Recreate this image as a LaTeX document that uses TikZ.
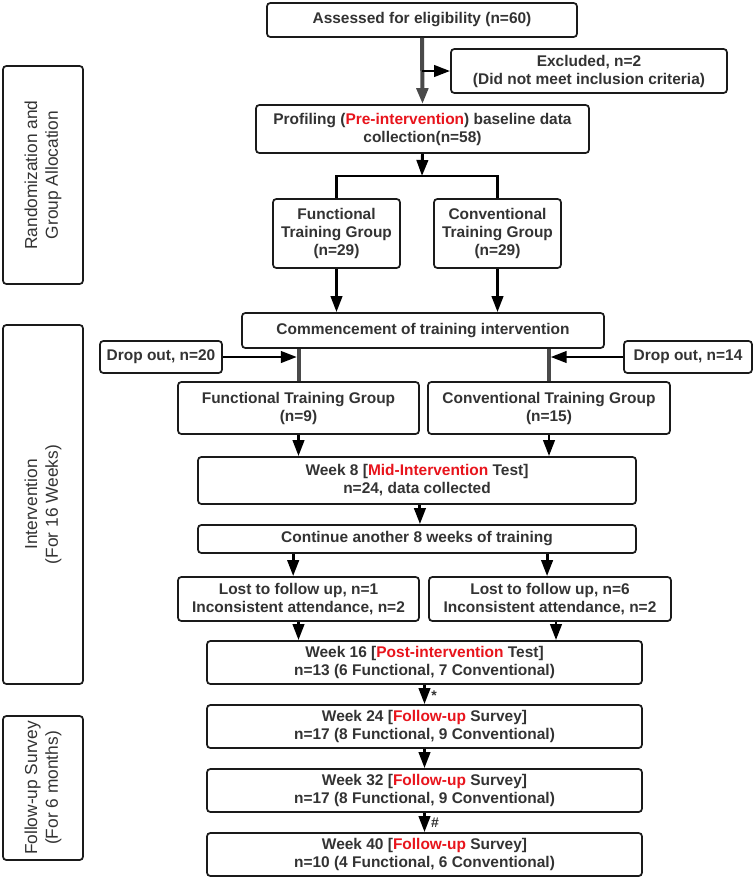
\documentclass[tikz,border=0pt]{standalone}
\usepackage{fontspec}
\setmainfont{Liberation Sans}
\usetikzlibrary{arrows.meta}
\definecolor{txt}{HTML}{333333}
\definecolor{hl}{HTML}{E8141C}
\definecolor{edge}{HTML}{1A1A1A}
\definecolor{gl}{HTML}{4A4A4A}
\newcommand{\hlt}[1]{\textcolor{hl}{#1}}
\begin{document}
\begin{tikzpicture}[x=0.75pt,y=-0.75pt,
 box/.style={draw=edge, line width=1.3pt, rounded corners=2.5pt, fill=white, align=center, inner sep=0pt, text=txt, font=\bfseries\fontsize{11.6}{13.5}\selectfont},
 sz/.style 2 args={minimum width=#1*0.75pt, minimum height=#2*0.75pt},
 side/.style={draw=edge, line width=1.3pt, rounded corners=2.5pt, align=center, inner sep=0pt, text=txt, rotate=90, font=\fontsize{13}{15.5}\selectfont},
 arr/.style={draw=black, line width=2.2pt, -{Triangle[length=12pt,width=8.5pt]}},
 plain/.style={draw=black, line width=2.2pt},
 gln/.style={draw=gl, line width=3pt},
 garr/.style={draw=gl, line width=3pt, -{Triangle[length=12pt,width=8.5pt]}},
 smark/.style={text=txt, inner sep=0pt, font=\bfseries\fontsize{10.5}{11}\selectfont},
]
\useasboundingbox (0,0) rectangle (754,879);

% side labels
\node[side, sz={218}{80}] (s1) at (43,175) {Randomization and\\Group Allocation};
\node[side, sz={359}{80}] (s2) at (43,504.5) {Intervention\\(For 16 Weeks)};
\node[side, sz={144}{80}] (s3) at (43,788) {Follow-up Survey\\(For 6 months)};

% boxes
\node[box, sz={310}{34}] (assess) at (422,20) {Assessed for eligibility (n=60)};
\node[box, sz={276}{44}] (excl) at (589,71) {Excluded, n=2\\(Did not meet inclusion criteria)};
\node[box, sz={333}{48}] (prof) at (422.5,129) {Profiling (\hlt{Pre-intervention}) baseline data\\collection(n=58)};
\node[box, sz={127}{69}] (fun1) at (336.5,233.5) {Functional\\Training Group\\(n=29)};
\node[box, sz={127}{69}] (con1) at (497.5,233.5) {Conventional\\Training Group\\(n=29)};
\node[box, sz={362}{35}] (comm) at (423,330.5) {Commencement of training intervention};
\node[box, sz={122}{32}] (drop1) at (161,357) {Drop out, n=20};
\node[box, sz={128}{32}] (drop2) at (688,357) {Drop out, n=14};
\node[box, sz={241}{52}] (fun2) at (298.5,408) {Functional Training Group\\(n=9)};
\node[box, sz={242}{52}] (con2) at (549,408) {Conventional Training Group\\(n=15)};
\node[box, sz={438}{47}] (wk8) at (417,480.5) {Week 8 [\hlt{Mid-Intervention} Test]\\n=24, data collected};
\node[box, sz={438}{28}] (cont) at (417,539) {Continue another 8 weeks of training};
\node[box, sz={241}{44}] (lost1) at (298.5,599) {Lost to follow up, n=1\\Inconsistent attendance, n=2};
\node[box, sz={242}{44}] (lost2) at (550,599) {Lost to follow up, n=6\\Inconsistent attendance, n=2};
\node[box, sz={435}{43}] (wk16) at (424.5,662.5) {Week 16 [\hlt{Post-intervention} Test]\\n=13 (6 Functional, 7 Conventional)};
\node[box, sz={435}{43}] (wk24) at (424.5,726.5) {Week 24 [\hlt{Follow-up} Survey]\\n=17 (8 Functional, 9 Conventional)};
\node[box, sz={435}{43}] (wk32) at (424.5,790.5) {Week 32 [\hlt{Follow-up} Survey]\\n=17 (8 Functional, 9 Conventional)};
\node[box, sz={435}{43}] (wk40) at (424.5,854.5) {Week 40 [\hlt{Follow-up} Survey]\\n=10 (4 Functional, 6 Conventional)};

% connectors
\draw[garr] (assess.south) -- (prof.north);
\coordinate (exb) at (assess.south |- excl.west);
\draw[arr] (exb) -- (excl.west);

\coordinate (sp) at (422,176);
\draw[arr] (prof.south) -- (sp);
\draw[plain] (fun1.north) |- (sp) -| (con1.north);
\draw[arr] (fun1.south) -- (fun1.south |- comm.north);
\draw[arr] (con1.south) -- (con1.south |- comm.north);

\draw[gln] (comm.south -| fun2.north) -- (fun2.north);
\draw[gln] (comm.south -| con2.north) -- (con2.north);
\draw[arr, shorten >=1.2pt] (drop1.east) -- (drop1.east -| fun2.north);
\draw[arr, shorten >=1.2pt] (drop2.west) -- (drop2.west -| con2.north);

\draw[arr] (fun2.south) -- (fun2.south |- wk8.north);
\draw[arr] (con2.south) -- (con2.south |- wk8.north);
\draw[arr] ([xshift=2.2pt]wk8.south) -- ([xshift=2.2pt]cont.north);
\draw[arr] ([xshift=-4pt]lost1.north |- cont.south) -- ([xshift=-4pt]lost1.north);
\draw[arr] ([xshift=-2.2pt]lost2.north |- cont.south) -- ([xshift=-2.2pt]lost2.north);
\draw[arr] (lost1.south) -- (lost1.south |- wk16.north);
\draw[arr] ([xshift=4.5pt]lost2.south) -- ([xshift=4.5pt]lost2.south |- wk16.north);
\draw[arr] (wk16.south) -- (wk24.north);
\draw[arr] (wk24.south) -- (wk32.north);
\draw[arr] (wk32.south) -- (wk40.north);

\node[smark] (star) at (434,696) {*};
\node[smark] (hash) at (435,823) {\#};
\end{tikzpicture}
\end{document}
